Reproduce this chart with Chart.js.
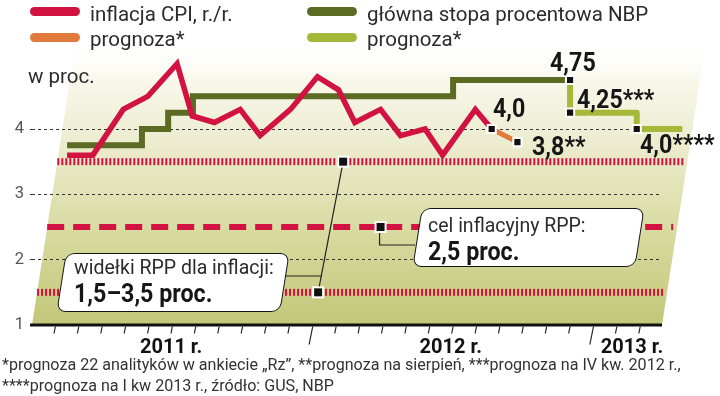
<!DOCTYPE html>
<html><head><meta charset="utf-8">
<script src="https://cdn.jsdelivr.net/npm/chart.js@4/dist/chart.umd.min.js"></script>
<style>
html,body{margin:0;padding:0;background:#fff;width:720px;height:396px;overflow:hidden}
#wrap{position:relative;width:720px;height:396px}
canvas{position:absolute;left:0;top:0}
.t{position:absolute;white-space:nowrap;font-family:Roboto,"Liberation Sans",sans-serif;color:#2b2b2b;line-height:1}
.b{position:absolute;white-space:nowrap;font-family:Roboto,"Liberation Sans",sans-serif;font-weight:bold;color:#161616;line-height:1;font-size:25px;transform:scaleX(0.93);transform-origin:0 0}
.sw{position:absolute;height:9px;border-radius:4.5px;width:50px}
.box{position:absolute;background:#fff;border:1.5px solid #151515;border-radius:9px;transform:skewX(-9deg);box-sizing:border-box;height:59px}
.leg{font-size:20.5px}
.foot{font-size:16.1px;color:#333}
.bx{font-size:19.5px}
</style></head><body><div id="wrap">
<canvas id="c" width="720" height="396"></canvas>

<div class="sw" style="left:30px;top:7px;background:#d21241"></div>
<div class="t leg" style="left:90px;top:3.7px">inflacja CPI, r./r.</div>
<div class="sw" style="left:30px;top:33px;background:#e07b3c"></div>
<div class="t leg" style="left:90px;top:28.7px">prognoza*</div>
<div class="sw" style="left:307px;top:7px;background:#5b6b23"></div>
<div class="t leg" style="left:367px;top:3.7px">główna stopa procentowa NBP</div>
<div class="sw" style="left:307px;top:33px;background:#a4b93a"></div>
<div class="t leg" style="left:367px;top:28.7px">prognoza*</div>
<div class="t leg" style="left:28px;top:65.7px">w proc.</div>

<div class="box" style="left:61px;top:253px;width:224px"></div>
<div class="t bx" style="left:74px;top:257.6px">widełki RPP dla inflacji:</div>
<div class="b" style="left:74px;top:281px">1,5–3,5 proc.</div>

<div class="box" style="left:417px;top:208px;width:223px"></div>
<div class="t bx" style="left:428px;top:215.6px">cel inflacyjny RPP:</div>
<div class="b" style="left:428px;top:239px">2,5 proc.</div>

<div class="b" style="left:493px;top:96px">4,0</div>
<div class="b" style="left:532px;top:134px">3,8**</div>
<div class="b" style="left:550px;top:50px">4,75</div>
<div class="b" style="left:577px;top:87px">4,25***</div>
<div class="b" style="left:640px;top:132px">4,0****</div>

<div class="t foot" style="left:2px;top:356.5px">*prognoza 22 analityków w ankiecie „Rz”, **prognoza na sierpień, ***prognoza na IV kw. 2012 r.,</div>
<div class="t foot" style="left:2px;top:377.5px">****prognoza na I kw 2013 r., źródło: GUS, NBP</div>
</div>
<script>
// month index: 0 = January 2011 (positions)
const cpiMonths = [0, 1.1, 2.4, 3.45, 4.7, 5.35, 6.3, 7.4, 8.25, 9.55, 10.7, 11.6, 12.3, 13.4, 14.25, 15.3, 16.05, 17.45, 18.15];
const cpiValues = [3.6, 3.6, 4.3, 4.5, 5.0, 4.2, 4.1, 4.3, 3.9, 4.3, 4.8, 4.6, 4.1, 4.3, 3.9, 4.0, 3.6, 4.3, 4.0];
const cpiForecastMonths = [18.15, 19.25];
const cpiForecastValues = [4.0, 3.8];
const rateMonths = [0, 3.2, 4.32, 5.38, 16.5, 21.5];
const rateValues = [3.75, 4.0, 4.25, 4.5, 4.75, 4.75];
const rateForecastMonths = [21.5, 21.5, 24.35, 26.3];
const rateForecastValues = [4.75, 4.25, 4.0, 4.0];
const bandValues = [1.5, 3.5];
const targetValue = 2.5;
const yTicks = [1, 2, 3, 4];
const yearLabels = ['2011 r.', '2012 r.', '2013 r.'];
const yearLabelAt = [4.45, 16.4, 24.15];
const monthBoundaryStart = -1.5;
const monthBoundaryCount = 26;

const RED = '#d21241', ORANGE = '#e07b3c', OLIVE = '#5b6b23', LIME = '#a4b93a';
const SLANT = 0.155;

const pts = (xs, ys) => xs.map((x, i) => ({x, y: ys[i]}));
const markerPts = [
  {x: cpiForecastMonths[0], y: cpiForecastValues[0]},
  {x: cpiForecastMonths[1], y: cpiForecastValues[1]},
  {x: rateForecastMonths[0], y: rateForecastValues[0]},
  {x: rateForecastMonths[1], y: rateForecastValues[1]},
  {x: rateForecastMonths[2], y: rateForecastValues[2]}
];

function square(ctx, x, y) {
  ctx.save();
  ctx.fillStyle = '#fff';
  ctx.fillRect(x - 6, y - 6, 12, 12);
  ctx.fillStyle = '#111';
  ctx.fillRect(x - 4, y - 4, 8, 8);
  ctx.restore();
}

const decor = {
  id: 'decor',
  beforeDraw(chart) {
    const {ctx, chartArea: a} = chart;
    const top = 40;
    const xl = y => a.left + SLANT * (a.bottom - y);
    const xr = y => a.right + SLANT * (a.bottom - y);
    ctx.save();
    const g = ctx.createLinearGradient(0, a.bottom, 0, top);
    g.addColorStop(0, '#c2c779');
    g.addColorStop(0.3, '#d6d99c');
    g.addColorStop(0.62, '#ebebcd');
    g.addColorStop(0.85, '#f8f7ea');
    g.addColorStop(1, 'rgba(255,255,255,0)');
    ctx.fillStyle = g;
    ctx.beginPath();
    ctx.moveTo(xl(a.bottom), a.bottom);
    ctx.lineTo(xr(a.bottom), a.bottom);
    ctx.lineTo(xr(top), top);
    ctx.lineTo(xl(top), top);
    ctx.closePath();
    ctx.fill();
    ctx.restore();
  },
  beforeDatasetsDraw(chart) {
    const {ctx, chartArea: a, scales: {x, y}} = chart;
    const xl = yy => a.left + SLANT * (a.bottom - yy);
    const xr = yy => a.right + SLANT * (a.bottom - yy);
    ctx.save();
    ctx.strokeStyle = RED;
    ctx.lineWidth = 7;
    ctx.setLineDash([2, 2]);
    bandValues.forEach(v => {
      const yy = y.getPixelForValue(v);
      ctx.beginPath();
      ctx.moveTo(xl(yy), yy);
      ctx.lineTo(xr(yy) - 3, yy);
      ctx.stroke();
    });
    ctx.lineWidth = 6;
    ctx.setLineDash([17, 9]);
    const ty = y.getPixelForValue(targetValue);
    ctx.beginPath();
    ctx.moveTo(xl(ty), ty);
    ctx.lineTo(xr(ty) - 4, ty);
    ctx.stroke();
    ctx.setLineDash([]);
    ctx.strokeStyle = '#111';
    ctx.lineWidth = 3;
    ctx.beginPath();
    ctx.moveTo(a.left - 2, a.bottom);
    ctx.lineTo(a.right, a.bottom);
    ctx.stroke();
    ctx.lineWidth = 1.2;
    ctx.strokeStyle = '#222';
    for (let k = 1; k <= monthBoundaryCount; k++) {
      const px = x.getPixelForValue(monthBoundaryStart + k);
      const tall = k % 12 === 0;
      const len = tall ? 18 : 7;
      ctx.beginPath();
      ctx.moveTo(px, a.bottom + 1.5);
      ctx.lineTo(px - len * 0.2, a.bottom + 1.5 + len);
      ctx.stroke();
    }
    ctx.restore();
  },
  afterDatasetsDraw(chart) {
    const {ctx, scales: {x, y}} = chart;
    ctx.save();
    ctx.strokeStyle = '#222';
    ctx.lineWidth = 1.2;
    const A = {x: x.getPixelForValue(11.8), y: y.getPixelForValue(bandValues[1])};
    const B = {x: x.getPixelForValue(10.73), y: y.getPixelForValue(bandValues[0])};
    ctx.beginPath(); ctx.moveTo(A.x, A.y); ctx.lineTo(B.x, B.y); ctx.stroke();
    const hy = 276;
    const hx = A.x + (B.x - A.x) * (hy - A.y) / (B.y - A.y);
    ctx.beginPath(); ctx.moveTo(285, hy); ctx.lineTo(hx, hy); ctx.stroke();
    const C = {x: x.getPixelForValue(13.4), y: y.getPixelForValue(targetValue)};
    ctx.beginPath(); ctx.moveTo(C.x - 1, C.y); ctx.lineTo(C.x - 1, 245); ctx.lineTo(415, 245); ctx.stroke();
    square(ctx, A.x, A.y); square(ctx, B.x, B.y); square(ctx, C.x, C.y);
    ctx.restore();
  }
};

new Chart(document.getElementById('c'), {
  type: 'line',
  data: {
    datasets: [
      {data: markerPts, showLine: false, pointStyle: 'rect', pointRadius: 5.8, pointBackgroundColor: '#111', pointBorderColor: '#fff', pointBorderWidth: 2, clip: false},
      {data: pts(cpiMonths, cpiValues), borderColor: RED, borderWidth: 5.5, pointRadius: 0, borderJoinStyle: 'miter', clip: false},
      {data: pts(cpiForecastMonths, cpiForecastValues), borderColor: ORANGE, borderWidth: 5, pointRadius: 0, clip: false},
      {data: pts(rateMonths, rateValues), borderColor: OLIVE, borderWidth: 6, pointRadius: 0, stepped: true, borderJoinStyle: 'miter', clip: false},
      {data: pts(rateForecastMonths, rateForecastValues), borderColor: LIME, borderWidth: 6, pointRadius: 0, stepped: true, borderJoinStyle: 'round', clip: false}
    ]
  },
  options: {
    responsive: false,
    animation: false,
    devicePixelRatio: 1,
    layout: {padding: {left: 0, top: 31, right: 58, bottom: 0}},
    plugins: {legend: {display: false}, tooltip: {enabled: false}},
    scales: {
      x: {
        type: 'linear', min: -1.5, max: 25.43,
        grid: {display: false, drawTicks: false},
        border: {display: false},
        afterBuildTicks: s => { s.ticks = yearLabelAt.map(v => ({value: v})); },
        afterFit: s => { s.height = 71; },
        ticks: {
          autoSkip: false, maxRotation: 0, padding: 11, color: '#111',
          font: {family: 'Roboto,"Liberation Sans",sans-serif', size: 20, weight: 'bold'},
          callback: (v, i) => yearLabels[i]
        }
      },
      y: {
        min: 1, max: 5.5,
        afterBuildTicks: s => { s.ticks = yTicks.map(v => ({value: v})); },
        afterFit: s => { s.width = 32; },
        grid: {
          color: c => c.tick && c.tick.value === 1 ? 'rgba(0,0,0,0)' : '#333',
          lineWidth: 1, drawTicks: true, tickLength: 2
        },
        border: {display: false, dash: [3, 3]},
        ticks: {color: '#555', padding: 6, font: {family: 'Roboto,"Liberation Sans",sans-serif', size: 16.5}}
      }
    }
  },
  plugins: [decor]
});
</script>
</body></html>
